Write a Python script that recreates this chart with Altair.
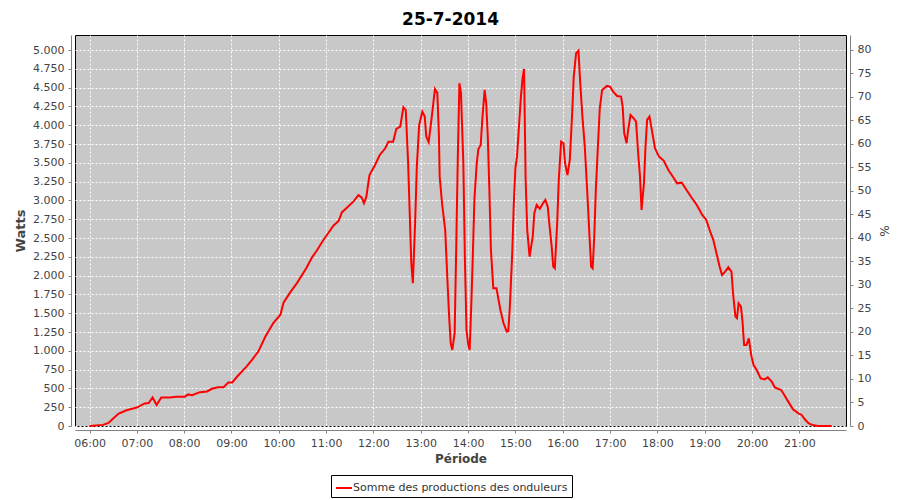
import altair as alt
import pandas as pd

times = ["06:00","06:17","06:24","06:30","06:37","06:47","07:00","07:10","07:15","07:20",
         "07:25","07:31","07:42","07:50","08:01","08:05","08:10","08:20","08:29","08:35",
         "08:43","08:50","08:56","09:01","09:07","09:19","09:26","09:34","09:43","09:53",
         "10:02","10:06","10:14","10:23","10:35","10:42","10:48","10:57","11:01","11:09",
         "11:16","11:20","11:26","11:35","11:41","11:45","11:48","11:51","11:55","12:02",
         "12:08","12:15","12:19","12:25","12:29","12:34","12:38","12:41","12:44","12:46",
         "12:48","12:50","12:53","12:55","12:58","13:02","13:05","13:07","13:10","13:14",
         "13:18","13:21","13:23","13:24","13:27","13:31","13:34","13:36","13:38","13:40",
         "13:43","13:45","13:47","13:49","13:51","13:54","13:56","13:58","14:00","14:02",
         "14:04","14:06","14:08","14:11","14:13","14:16","14:18","14:21","14:23","14:25",
         "14:27","14:29","14:32","14:36","14:41","14:45","14:49","14:51","14:53","14:56",
         "14:58","15:00","15:02","15:04","15:07","15:09","15:11","15:13","15:15","15:18",
         "15:20","15:22","15:24","15:27","15:31","15:35","15:38","15:41","15:43","15:46",
         "15:48","15:50","15:53","15:55","15:58","16:01","16:03","16:06","16:09","16:12",
         "16:14","16:17","16:20","16:22","16:25","16:28","16:31","16:34","16:36","16:38",
         "16:40","16:42","16:45","16:47","16:50","16:56","17:00","17:04","17:09","17:14",
         "17:16","17:18","17:21","17:23","17:26","17:30","17:33","17:36","17:38","17:40",
         "17:43","17:45","17:47","17:50","17:53","17:57","18:02","18:08","18:14","18:21",
         "18:25","18:31","18:37","18:44","18:50","18:57","19:02","19:07","19:11","19:16",
         "19:19","19:22","19:26","19:30","19:34","19:36","19:39","19:41","19:43","19:46",
         "19:48","19:50","19:53","19:56","19:59","20:02","20:06","20:11","20:16","20:20",
         "20:25","20:29","20:37","20:41","20:46","20:52","20:59","21:03","21:07","21:12",
         "21:18","21:24","21:41"]

watts = [0,15,40,100,165,210,245,300,305,380,
         280,380,380,390,390,420,410,450,460,495,
         515,515,580,580,655,790,880,990,1190,1370,
         1480,1640,1770,1900,2100,2240,2330,2480,2540,2660,
         2730,2840,2900,2990,3070,3040,2962,3050,3338,3471,
         3604,3693,3781,3781,3950,3981,4238,4200,3493,2829,
         2164,1898,2750,3449,4003,4180,4120,3848,3775,4114,
         4482,4430,3880,3316,2962,2607,1898,1454,1100,1011,
         1237,2385,3582,4558,4430,3494,2208,1277,1100,1011,
         1587,2252,3006,3493,3680,3737,4070,4469,4290,3850,
         3139,2341,1831,1831,1543,1366,1255,1260,1587,2297,
         2962,3427,3582,3893,4380,4620,4748,3272,2607,2252,
         2385,2518,2829,2940,2888,2962,3006,2917,2696,2385,
         2119,2097,2696,3272,3781,3760,3493,3338,3537,4159,
         4646,4957,4992,4602,4114,3715,3139,2518,2119,2097,
         2518,3139,3800,4225,4469,4522,4513,4447,4389,4380,
         4247,3893,3760,3937,4136,4092,4047,3582,3316,2873,
         3227,3715,4070,4114,3937,3693,3582,3530,3405,3294,
         3227,3236,3139,3028,2940,2807,2740,2585,2474,2252,
         2119,2008,2052,2110,2052,1765,1454,1432,1632,1587,
         1388,1077,1077,1166,944,811,745,634,620,647,
         590,514,479,412,324,222,169,147,89,35,
         9,0,0]

series_name = "Somme des productions des onduleurs"
hour_ticks = list(range(6, 22))
watt_ticks = list(range(0, 5001, 250))
pct_ticks = list(range(0, 81, 5))

df = pd.DataFrame({"t": times, "w": watts})
df["h"] = df["t"].apply(lambda s: int(s[:2]) + int(s[3:]) / 60.0)
df["serie"] = series_name

FONT = "DejaVu Sans"
GREY = "#808080"
LAB = "#444444"

x_enc = alt.X("h:Q",
              scale=alt.Scale(domain=[5.693, 21.987], nice=False, zero=False),
              axis=alt.Axis(title="Période", values=hour_ticks,
                            labelExpr="(datum.value < 10 ? '0' : '') + datum.value + ':00'",
                            grid=True, gridColor="white", gridDash=[2, 2], gridWidth=1,
                            offset=4, tickSize=3, domainColor=GREY, tickColor=GREY,
                            labelColor=LAB, labelFont=FONT, labelFontSize=11,
                            labelPadding=4, titleFont=FONT, titleFontSize=12,
                            titleFontWeight="bold", titleColor=LAB, titlePadding=5,
                            labelFlush=False))

line = alt.Chart(df).mark_line(strokeWidth=2, interpolate="linear").encode(
    x=x_enc,
    y=alt.Y("w:Q",
            scale=alt.Scale(domain=[0, 5199.5], nice=False),
            axis=alt.Axis(title="Watts", orient="left", values=watt_ticks,
                          labelExpr="replace(format(datum.value, ','), ',', '.')",
                          grid=True, gridColor="white", gridDash=[2, 2], gridWidth=1,
                          offset=4, tickSize=3, domainColor=GREY, tickColor=GREY,
                          labelColor=LAB, labelFont=FONT, labelFontSize=11,
                          labelPadding=4, titleFont=FONT, titleFontSize=13,
                          titleFontWeight="bold", titleColor=LAB, titlePadding=5,
                          labelFlush=False)),
    color=alt.Color("serie:N",
                    scale=alt.Scale(domain=[series_name], range=["#ff0000"]),
                    legend=alt.Legend(title=None, orient="none", legendX=256, legendY=440,
                                      symbolType="stroke", symbolSize=256,
                                      symbolStrokeWidth=2, labelFont=FONT,
                                      labelFontSize=11, labelColor="#333333",
                                      labelLimit=500,
                                      strokeColor="black", padding=4,
                                      labelOffset=0)),
)

pct = alt.Chart(df).transform_calculate(p="datum.w / 62.5").mark_line(
    strokeOpacity=0).encode(
    x=alt.X("h:Q", scale=alt.Scale(domain=[5.693, 21.987], nice=False, zero=False)),
    y=alt.Y("p:Q",
            scale=alt.Scale(domain=[0, 83.19], nice=False),
            axis=alt.Axis(title="%", orient="right", values=pct_ticks, grid=False,
                          offset=4, tickSize=3, domainColor=GREY, tickColor=GREY,
                          labelColor=LAB, labelFont=FONT, labelFontSize=11,
                          labelPadding=4, titleFont=FONT, titleFontSize=12,
                          titleFontWeight="normal", titleColor=LAB, titlePadding=6,
                          labelFlush=False)),
)

chart = alt.layer(line, pct).resolve_scale(y="independent").properties(
    width=771, height=391,
    autosize=alt.AutoSizeParams(type="none"),
    padding={"left": 67, "top": 27, "right": 46, "bottom": 72},
    title=alt.Title("25-7-2014", font=FONT, fontSize=17, fontWeight="bold",
                    color="black", anchor="middle", dx=-10, offset=6),
).configure_view(fill="#c8c8c8", stroke="black", strokeWidth=1)

chart.save("out.html", embed_options={"renderer": "svg", "actions": False})
